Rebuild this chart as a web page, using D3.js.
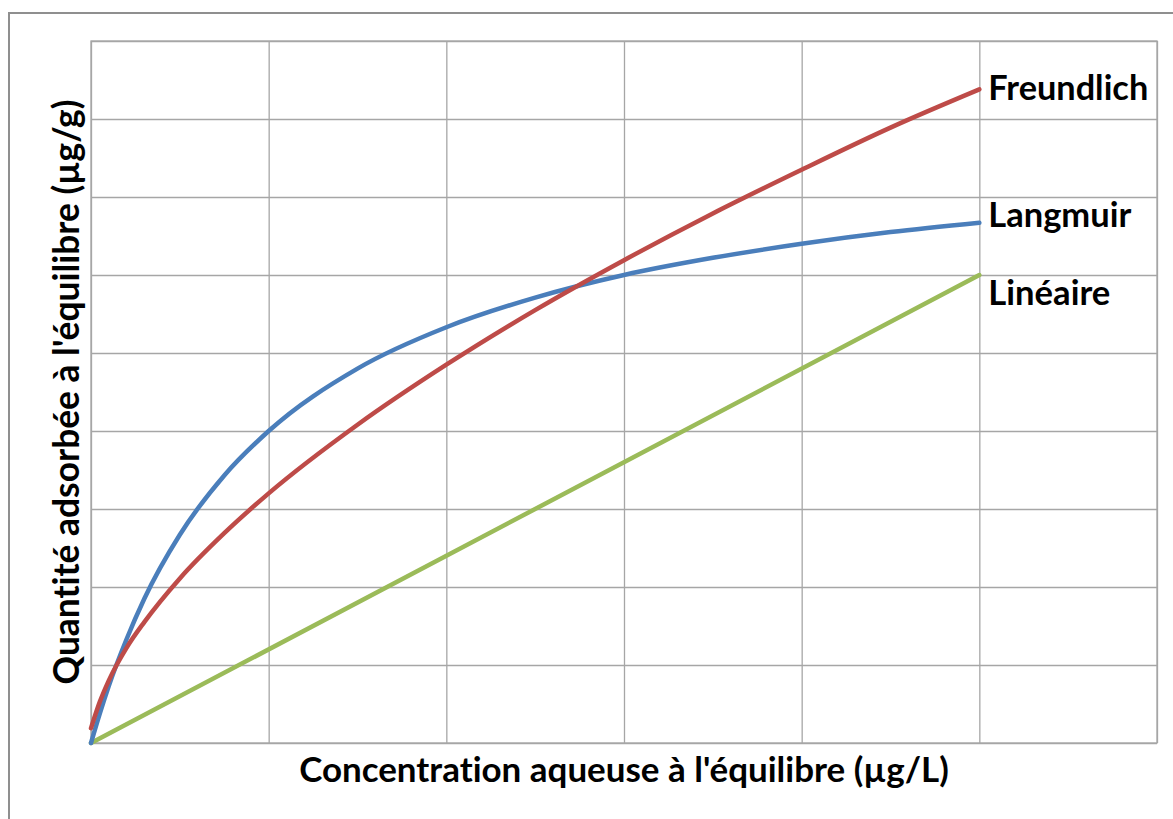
<!DOCTYPE html>
<html>
<head>
<meta charset="utf-8">
<script src="https://cdn.jsdelivr.net/npm/d3@7"></script>
<style>
  html, body { margin: 0; padding: 0; background: #ffffff; }
  svg { display: block; }
  text { font-family: "Lato", "Open Sans", sans-serif; font-weight: 700; fill: #000; font-variant-ligatures: none; }
</style>
</head>
<body>
<script>
// ---- data ----
const xTickValues = [0, 1, 2, 3, 4, 5, 6];
const yTickValues = [0, 1, 2, 3, 4, 5, 6, 7, 8, 9];

const langmuirX = [0, 0.05, 0.1, 0.2, 0.3, 0.5, 0.75, 1, 1.5, 2, 2.5, 3, 3.5, 4, 4.5, 5];
const langmuirY = [0, 0.38, 0.73, 1.33, 1.85, 2.67, 3.43, 4.0, 4.8, 5.33, 5.71, 6.0, 6.22, 6.4, 6.55, 6.67];

const freundlichX = [0, 0.05, 0.1, 0.2, 0.3, 0.5, 0.75, 1, 1.5, 2, 2.5, 3, 3.5, 4, 4.5, 5];
const freundlichY = [0.19, 0.53, 0.8, 1.22, 1.55, 2.11, 2.69, 3.2, 4.08, 4.85, 5.55, 6.19, 6.79, 7.35, 7.89, 8.38];

const lineaireX = [0, 5];
const lineaireY = [0, 6];

const seriesNames = ["Linéaire", "Langmuir", "Freundlich"];
const xTitle = "Concentration aqueuse à l'équilibre (µg/L)";
const yTitle = "Quantité adsorbée à l'équilibre (µg/g)";

// ---- layout ----
const W = 1173, H = 819;
const plot = { left: 91, top: 41, right: 1157, bottom: 743 };

const svg = d3.select("body").append("svg").attr("width", W).attr("height", H);

// outer chart border
svg.append("path")
  .attr("d", `M9,${H} L9,13 L${W},13`)
  .attr("fill", "none").attr("stroke", "#8f8f8f").attr("stroke-width", 2);

const x = d3.scaleLinear().domain([0, 6]).range([plot.left, plot.right]);
const y = d3.scaleLinear().domain([0, 9]).range([plot.bottom, plot.top]);

const gridColor = "#a6a6a6";

// vertical gridlines via axis
svg.append("g")
  .attr("transform", `translate(0,${plot.bottom})`)
  .call(d3.axisBottom(x).tickValues(xTickValues).tickSize(-(plot.bottom - plot.top)).tickFormat(""))
  .call(g => g.select(".domain").remove())
  .call(g => g.selectAll("line").attr("stroke", gridColor).attr("stroke-width", 1.3));

// horizontal gridlines via axis
svg.append("g")
  .attr("transform", `translate(${plot.left},0)`)
  .call(d3.axisLeft(y).tickValues(yTickValues).tickSize(-(plot.right - plot.left)).tickFormat(""))
  .call(g => g.select(".domain").remove())
  .call(g => g.selectAll("line").attr("stroke", gridColor).attr("stroke-width", 1.3));

// plot frame
svg.append("rect")
  .attr("x", plot.left).attr("y", plot.top)
  .attr("width", plot.right - plot.left).attr("height", plot.bottom - plot.top)
  .attr("fill", "none").attr("stroke", gridColor).attr("stroke-width", 1.3);

const series = [
  { name: seriesNames[0], xs: lineaireX, ys: lineaireY, color: "#9bbb59", labelDy: 30 },
  { name: seriesNames[1], xs: langmuirX, ys: langmuirY, color: "#4a7ebb", labelDy: 4 },
  { name: seriesNames[2], xs: freundlichX, ys: freundlichY, color: "#be4b48", labelDy: 11 }
];

const line = d3.line()
  .x(d => x(d[0])).y(d => y(d[1]))
  .curve(d3.curveMonotoneX);

series.forEach(s => {
  const pts = s.xs.map((v, i) => [v, s.ys[i]]);
  svg.append("path")
    .datum(pts)
    .attr("d", line)
    .attr("fill", "none")
    .attr("stroke", s.color)
    .attr("stroke-width", 4.5)
    .attr("stroke-linecap", "round")
    .attr("stroke-linejoin", "round");
});

// fit text to a target width by adjusting font size
function fitText(sel, targetWidth) {
  sel.attr("font-size", 100);
  const w = sel.node().getComputedTextLength();
  sel.attr("font-size", 100 * targetWidth / w);
}

// series labels
const labelWidths = { "Freundlich": 160, "Langmuir": 143, "Linéaire": 122 };
series.forEach(s => {
  const last = s.xs.length - 1;
  const t = svg.append("text")
    .attr("x", x(s.xs[last]) + 9)
    .attr("y", y(s.ys[last]) + s.labelDy)
    .text(s.name);
  fitText(t, labelWidths[s.name]);
});

// x axis title
const xt = svg.append("text")
  .attr("x", (plot.left + plot.right) / 2)
  .attr("y", 782)
  .attr("text-anchor", "middle")
  .text(xTitle);
fitText(xt, 650);

// y axis title
const yt = svg.append("text")
  .attr("transform", `translate(79,${(plot.top + plot.bottom) / 2}) rotate(-90)`)
  .attr("text-anchor", "middle")
  .text(yTitle);
fitText(yt, 585);
</script>
</body>
</html>
